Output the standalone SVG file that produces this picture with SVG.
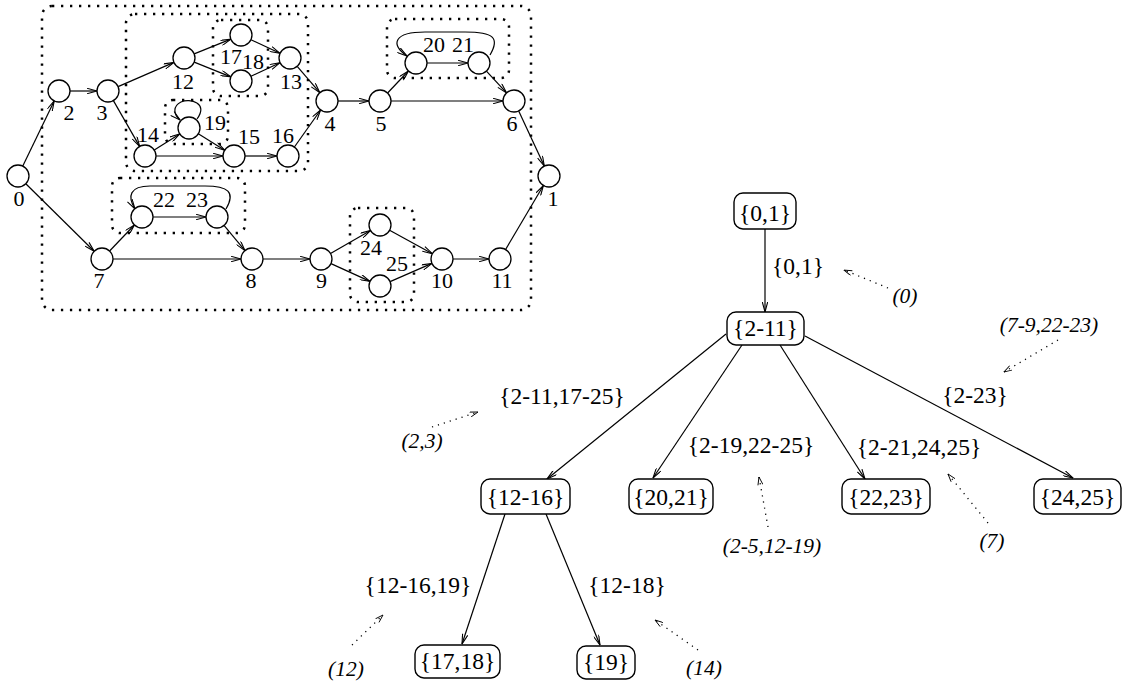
<svg xmlns="http://www.w3.org/2000/svg" width="1123" height="684" viewBox="0 0 1123 684">
  <style>
    .node circle { fill: #fff; stroke: #000; stroke-width: 1.3; }
    .lbl { font-family: "Liberation Serif", "Times New Roman", serif; font-size: 22px; fill: #000; text-anchor: middle; }
    .tl { font-family: "Liberation Serif", "Times New Roman", serif; font-size: 23.5px; fill: #000; text-anchor: middle; }
    .it { font-family: "Liberation Serif", "Times New Roman", serif; font-size: 21.5px; font-style: italic; fill: #000; text-anchor: middle; }
    .grp { fill: none; stroke: #000; stroke-width: 2.5; stroke-dasharray: 2.3 6.7; }
    .edge { fill: none; stroke: #000; stroke-width: 1.2; marker-end: url(#arr); }
    .box rect { fill: #fff; stroke: #000; stroke-width: 1.4; }
    .note { fill: none; stroke: #000; stroke-width: 1.3; stroke-dasharray: 1.2 5; marker-end: url(#darr); }
  </style>
  <defs>
    <marker id="arr" viewBox="0 0 11 6" refX="10.5" refY="3" markerWidth="11" markerHeight="6" markerUnits="userSpaceOnUse" orient="auto">
      <path d="M0.5,0.3 L10.5,3 L0.5,5.7" fill="none" stroke="#000" stroke-width="1.1"/>
    </marker>
    <marker id="darr" viewBox="0 0 9 6" refX="8.5" refY="3" markerWidth="9" markerHeight="6" markerUnits="userSpaceOnUse" orient="auto">
      <path d="M0.5,0.5 L8.5,3 L0.5,5.5" fill="none" stroke="#000" stroke-width="0.9"/>
    </marker>
  </defs>

  <!-- grouping boundaries of the flow graph -->
  <g id="groups">
    <rect class="grp" x="42" y="6" width="489" height="304" rx="10"/>
    <rect class="grp" x="126" y="14" width="182" height="157" rx="9"/>
    <rect class="grp" x="213" y="20" width="55" height="76" rx="8"/>
    <rect class="grp" x="165" y="100" width="63" height="44" rx="8"/>
    <rect class="grp" x="387" y="19" width="122" height="59" rx="8"/>
    <rect class="grp" x="112" y="178" width="133" height="55" rx="8"/>
    <rect class="grp" x="350" y="208" width="64" height="94" rx="8"/>
  </g>

  <!-- flow graph edges -->
  <g id="graph-edges">
    <line class="edge" x1="22.8" y1="166.1" x2="54.2" y2="100.9"/>
    <line class="edge" x1="25.8" y1="183.7" x2="94.2" y2="251.3"/>
    <line class="edge" x1="70" y1="91" x2="97" y2="91"/>
    <line class="edge" x1="118.1" y1="86.6" x2="173.9" y2="62.4"/>
    <line class="edge" x1="113.4" y1="100.6" x2="139.6" y2="146.4"/>
    <line class="edge" x1="194.2" y1="53.9" x2="230.8" y2="39.1"/>
    <line class="edge" x1="194.2" y1="62.1" x2="230.8" y2="76.9"/>
    <line class="edge" x1="251" y1="39.7" x2="280" y2="53.3"/>
    <line class="edge" x1="251" y1="76.3" x2="280" y2="62.7"/>
    <line class="edge" x1="297.2" y1="66.3" x2="319.8" y2="92.7"/>
    <line class="edge" x1="154.3" y1="150.1" x2="179.7" y2="133.9"/>
    <line class="edge" x1="156" y1="156" x2="223" y2="156"/>
    <line class="edge" x1="198.3" y1="133.8" x2="224.7" y2="150.2"/>
    <line class="edge" x1="245" y1="156" x2="277" y2="156"/>
    <line class="edge" x1="294.4" y1="147" x2="320.6" y2="110"/>
    <line class="edge" x1="338" y1="101" x2="369" y2="101"/>
    <line class="edge" x1="387.6" y1="93" x2="408.4" y2="71"/>
    <line class="edge" x1="391" y1="101" x2="503" y2="101"/>
    <line class="edge" x1="427" y1="63" x2="468" y2="63"/>
    <line class="edge" x1="486.4" y1="71.1" x2="506.6" y2="92.9"/>
    <line class="edge" x1="518.7" y1="111" x2="544.3" y2="166"/>
    <line class="edge" x1="109.6" y1="251" x2="134.4" y2="225"/>
    <line class="edge" x1="113" y1="259" x2="241" y2="259"/>
    <line class="edge" x1="153" y1="217" x2="206" y2="217"/>
    <line class="edge" x1="224" y1="225.4" x2="245" y2="250.6"/>
    <line class="edge" x1="263" y1="259" x2="310" y2="259"/>
    <line class="edge" x1="330.5" y1="253.5" x2="370.5" y2="230.5"/>
    <line class="edge" x1="331" y1="263.6" x2="370" y2="281.4"/>
    <line class="edge" x1="389.6" y1="230.3" x2="432.4" y2="253.7"/>
    <line class="edge" x1="390.1" y1="281.6" x2="431.9" y2="263.4"/>
    <line class="edge" x1="453" y1="259" x2="489" y2="259"/>
    <line class="edge" x1="505.6" y1="249.5" x2="543.4" y2="185.5"/>
    <!-- back edges and self loop -->
    <path class="edge" d="M490,55 C500,38 494,32 465,32 L425,32 C394,32 390,44 407,56"/>
    <path class="edge" d="M226,209 C236,192 228,186 205,186 L150,186 C130,186 127,196 135,209"/>
    <path class="edge" d="M197,119 C209,103 190,98 181,102 C173,106 173,114 180,120"/>
  </g>

  <!-- flow graph nodes -->
  <g id="n0" class="node"><circle cx="18" cy="176" r="11"/><text class="lbl" x="19" y="206">0</text></g>
  <g id="n1" class="node"><circle cx="549" cy="176" r="11"/><text class="lbl" x="553" y="206">1</text></g>
  <g id="n2" class="node"><circle cx="59" cy="91" r="11"/><text class="lbl" x="69" y="120">2</text></g>
  <g id="n3" class="node"><circle cx="108" cy="91" r="11"/><text class="lbl" x="102" y="120">3</text></g>
  <g id="n4" class="node"><circle cx="327" cy="101" r="11"/><text class="lbl" x="330" y="131">4</text></g>
  <g id="n5" class="node"><circle cx="380" cy="101" r="11"/><text class="lbl" x="381" y="131">5</text></g>
  <g id="n6" class="node"><circle cx="514" cy="101" r="11"/><text class="lbl" x="512" y="131">6</text></g>
  <g id="n7" class="node"><circle cx="102" cy="259" r="11"/><text class="lbl" x="99" y="288">7</text></g>
  <g id="n8" class="node"><circle cx="252" cy="259" r="11"/><text class="lbl" x="251" y="288">8</text></g>
  <g id="n9" class="node"><circle cx="321" cy="259" r="11"/><text class="lbl" x="321.5" y="288">9</text></g>
  <g id="n10" class="node"><circle cx="442" cy="259" r="11"/><text class="lbl" x="442" y="288">10</text></g>
  <g id="n11" class="node"><circle cx="500" cy="259" r="11"/><text class="lbl" x="502" y="288">11</text></g>
  <g id="n12" class="node"><circle cx="184" cy="58" r="11"/><text class="lbl" x="183" y="89">12</text></g>
  <g id="n13" class="node"><circle cx="290" cy="58" r="11"/><text class="lbl" x="291" y="89">13</text></g>
  <g id="n14" class="node"><circle cx="145" cy="156" r="11"/><text class="lbl" x="148" y="142">14</text></g>
  <g id="n15" class="node"><circle cx="234" cy="156" r="11"/><text class="lbl" x="249" y="144">15</text></g>
  <g id="n16" class="node"><circle cx="288" cy="156" r="11"/><text class="lbl" x="283" y="143">16</text></g>
  <g id="n17" class="node"><circle cx="241" cy="35" r="11"/><text class="lbl" x="231" y="64">17</text></g>
  <g id="n18" class="node"><circle cx="241" cy="81" r="11"/><text class="lbl" x="253" y="69">18</text></g>
  <g id="n19" class="node"><circle cx="189" cy="128" r="11"/><text class="lbl" x="215" y="130">19</text></g>
  <g id="n20" class="node"><circle cx="416" cy="63" r="11"/><text class="lbl" x="434" y="52">20</text></g>
  <g id="n21" class="node"><circle cx="479" cy="63" r="11"/><text class="lbl" x="463" y="52">21</text></g>
  <g id="n22" class="node"><circle cx="142" cy="217" r="11"/><text class="lbl" x="164" y="207">22</text></g>
  <g id="n23" class="node"><circle cx="217" cy="217" r="11"/><text class="lbl" x="197" y="207">23</text></g>
  <g id="n24" class="node"><circle cx="380" cy="225" r="11"/><text class="lbl" x="371" y="255">24</text></g>
  <g id="n25" class="node"><circle cx="380" cy="286" r="11"/><text class="lbl" x="397" y="271">25</text></g>

  <!-- tree edges -->
  <g id="tree-edges">
    <line class="edge" x1="765" y1="229" x2="765" y2="312"/>
    <line class="edge" x1="726" y1="334" x2="547" y2="479"/>
    <line class="edge" x1="742" y1="345" x2="653" y2="478"/>
    <line class="edge" x1="780" y1="345" x2="865" y2="479"/>
    <line class="edge" x1="805" y1="336" x2="1073" y2="478"/>
    <line class="edge" x1="505" y1="514" x2="462" y2="644"/>
    <line class="edge" x1="546" y1="514" x2="600" y2="645"/>
  </g>

  <!-- tree nodes -->
  <g id="t01" class="box"><rect x="734" y="193" width="62" height="36" rx="9"/><text class="tl" x="765" y="221">{0,1}</text></g>
  <g id="t2-11" class="box"><rect x="727" y="312" width="77" height="33" rx="9"/><text class="tl" x="765.5" y="336">{2-11}</text></g>
  <g id="t12-16" class="box"><rect x="481" y="479" width="89" height="35" rx="9"/><text class="tl" x="525.5" y="505">{12-16}</text></g>
  <g id="t20-21" class="box"><rect x="629" y="479" width="84" height="35" rx="9"/><text class="tl" x="671" y="505">{20,21}</text></g>
  <g id="t22-23" class="box"><rect x="842" y="479" width="88" height="35" rx="9"/><text class="tl" x="886" y="505">{22,23}</text></g>
  <g id="t24-25" class="box"><rect x="1034" y="479" width="87" height="35" rx="9"/><text class="tl" x="1077.5" y="505">{24,25}</text></g>
  <g id="t17-18" class="box"><rect x="415" y="645" width="85" height="33" rx="9"/><text class="tl" x="457.5" y="669">{17,18}</text></g>
  <g id="t19" class="box"><rect x="577" y="646" width="58" height="33" rx="9"/><text class="tl" x="606" y="670">{19}</text></g>

  <!-- tree edge labels -->
  <g id="edge-labels">
    <text class="tl" x="798" y="274">{0,1}</text>
    <text class="tl" x="562" y="404">{2-11,17-25}</text>
    <text class="tl" x="751" y="453">{2-19,22-25}</text>
    <text class="tl" x="919" y="455">{2-21,24,25}</text>
    <text class="tl" x="975" y="403">{2-23}</text>
    <text class="tl" x="418" y="593">{12-16,19}</text>
    <text class="tl" x="627" y="593">{12-18}</text>
  </g>

  <!-- annotations -->
  <g id="annotations">
    <path class="note" d="M888,288 L844,270"/>
    <text class="it" x="905" y="303">(0)</text>
    <path class="note" d="M1058,340 L1004,372"/>
    <text class="it" x="1049" y="332">(7-9,22-23)</text>
    <path class="note" d="M432,427 L478,412"/>
    <text class="it" x="422" y="448">(2,3)</text>
    <path class="note" d="M768,527 L759,477"/>
    <text class="it" x="772" y="553">(2-5,12-19)</text>
    <path class="note" d="M988,523 L948,474"/>
    <text class="it" x="992" y="548">(7)</text>
    <path class="note" d="M352,645 L383,615"/>
    <text class="it" x="346" y="676">(12)</text>
    <path class="note" d="M698,650 L655,620"/>
    <text class="it" x="704" y="675">(14)</text>
  </g>
</svg>
